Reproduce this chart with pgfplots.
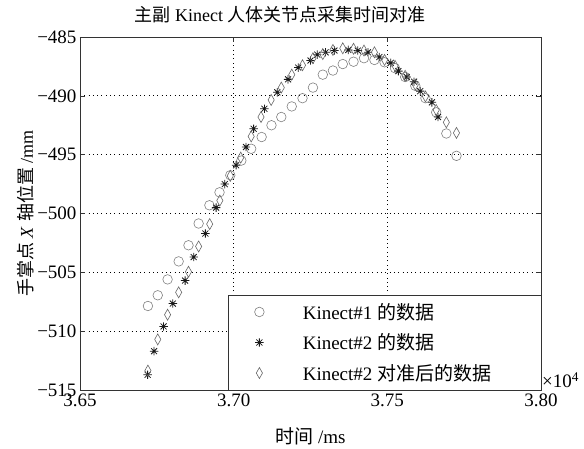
\documentclass[border=0pt]{standalone}
\usepackage{pgfplots}
\pgfplotsset{compat=1.18}
\usepackage{fontspec}
\setmainfont{Liberation Serif}
\newfontfamily\cjk{Noto Sans CJK SC}
\pgfdeclareplotmark{mstar}{%
 \pgfpathmoveto{\pgfqpoint{-\pgfplotmarksize}{0pt}}\pgfpathlineto{\pgfqpoint{\pgfplotmarksize}{0pt}}%
 \pgfpathmoveto{\pgfqpoint{0pt}{-\pgfplotmarksize}}\pgfpathlineto{\pgfqpoint{0pt}{\pgfplotmarksize}}%
 \pgfpathmoveto{\pgfqpoint{-.707\pgfplotmarksize}{-.707\pgfplotmarksize}}\pgfpathlineto{\pgfqpoint{.707\pgfplotmarksize}{.707\pgfplotmarksize}}%
 \pgfpathmoveto{\pgfqpoint{-.707\pgfplotmarksize}{.707\pgfplotmarksize}}\pgfpathlineto{\pgfqpoint{.707\pgfplotmarksize}{-.707\pgfplotmarksize}}%
 \pgfusepathqstroke}
\pgfplotsset{lg/.style={legend image code/.code={\path (0pt,0pt) (72pt,0pt); \draw[##1] plot coordinates {(31pt,0pt)};}}}
\begin{document}
\begin{tikzpicture}
\begin{axis}[
  name=ax,
  at={(0,0)}, anchor=south west,
  width=461pt, height=353pt, scale only axis,
  xmin=3.65, xmax=3.80, ymin=-515, ymax=-485,
  xtick={3.65,3.70,3.75,3.80}, xticklabels={3.65,3.70,3.75,3.80},
  ytick={-515,-510,-505,-500,-495,-490,-485},
  yticklabels={−515,−510,−505,−500,−495,−490,−485},
  tick align=inside, major tick length=5pt,
  tick style={black!80, line width=0.6pt},
  grid=major, grid style={black, line width=0.7pt, dash pattern=on 0.7pt off 3.6pt},
  axis line style={black!80, line width=0.7pt},
  tick label style={font=\fontsize{19}{22}\selectfont},
  title={{\cjk 主副} Kinect {\cjk 人体关节点采集时间对准}},
  title style={at={(axis description cs:0.434,1.045)}, anchor=center, font=\fontsize{18}{21}\selectfont},
  xlabel={{\cjk 时间} /ms},
  xlabel style={at={(axis description cs:0.5,-0.13)}, anchor=center, font=\fontsize{19}{22}\selectfont},
  ylabel={{\cjk 手掌点} \textit{X} {\cjk 轴位置} /mm},
  ylabel style={at={(axis description cs:-0.117,0.5)}, anchor=center, font=\fontsize{18}{21}\selectfont},
  legend style={at={(axis description cs:1,0)}, anchor=south east, draw=black!80, fill=white,
    inner xsep=0pt, inner ysep=6pt, row sep=9pt, font=\fontsize{19}{22}\selectfont},
  legend cell align=left,
]
\addplot[only marks, mark=o, mark size=4.8pt, black!50, line width=0.6pt, lg] coordinates {
(3.6721,-507.86) (3.6753,-506.95) (3.6785,-505.6) (3.6821,-504.07) (3.6853,-502.7)
(3.6886,-500.85) (3.6921,-499.3) (3.6954,-498.2) (3.6989,-496.75) (3.7025,-495.5)
(3.7057,-494.5) (3.7091,-493.5) (3.7123,-492.5) (3.7155,-491.8) (3.7189,-490.9)
(3.7224,-490.2) (3.7258,-489.3) (3.7290,-488.2) (3.7323,-487.85) (3.7355,-487.3)
(3.7390,-487.1) (3.7424,-486.8) (3.7458,-486.95) (3.7491,-487.15) (3.7525,-487.65)
(3.7558,-488.4) (3.7591,-489.15) (3.7624,-490.2) (3.7659,-491.4) (3.7692,-493.2)
(3.7725,-495.1)
};
\addlegendentry{\makebox[236pt][l]{Kinect\#1 {\cjk 的数据}}}
\addplot[only marks, mark=mstar, mark size=4.2pt, black!90, line width=0.8pt, lg] coordinates {
(3.6720,-513.7) (3.6741,-511.7) (3.6772,-509.6) (3.6802,-507.65) (3.6842,-505.7)
(3.6870,-503.7) (3.6908,-501.7) (3.6943,-499.5) (3.6971,-497.5) (3.7008,-495.9)
(3.7040,-494.35) (3.7065,-492.8) (3.7100,-491.1) (3.7142,-489.7) (3.7177,-488.6)
(3.7210,-487.6) (3.7250,-487.0) (3.7272,-486.5) (3.7299,-486.3) (3.7328,-486.15)
(3.7373,-486.1) (3.7404,-486.15) (3.7437,-486.3) (3.7474,-486.7) (3.7511,-487.2)
(3.7536,-487.9) (3.7563,-488.4) (3.7587,-488.8) (3.7607,-489.6) (3.7645,-490.55)
(3.7665,-491.8)
};
\addlegendentry{\makebox[236pt][l]{Kinect\#2 {\cjk 的数据}}}
\addplot[only marks, mark=diamond, mark size=5.5pt, mark options={xscale=0.75}, black!60, line width=0.6pt, lg] coordinates {
(3.6721,-513.35) (3.6753,-510.7) (3.6785,-508.6) (3.6821,-506.7) (3.6853,-504.95)
(3.6886,-502.8) (3.6922,-500.9) (3.6955,-498.9) (3.6989,-496.8) (3.7023,-495.25)
(3.7057,-493.45) (3.7089,-491.8) (3.7122,-490.35) (3.7155,-489.3) (3.7189,-488.2)
(3.7224,-487.4) (3.7258,-486.8) (3.7290,-486.45) (3.7323,-486.1) (3.7355,-485.96)
(3.7390,-486.0) (3.7424,-486.15) (3.7458,-486.3) (3.7491,-486.95) (3.7525,-487.45)
(3.7558,-488.3) (3.7591,-489.05) (3.7624,-490.05) (3.7659,-491.2) (3.7692,-492.25)
(3.7725,-493.15)
};
\addlegendentry{\makebox[236pt][l]{Kinect\#2 {\cjk 对准后的数据}}}
\end{axis}
\node[anchor=west, inner sep=1pt, font=\fontsize{19}{22}\selectfont] at ([yshift=10pt]ax.south east) {×10\textsuperscript{4}};
\pgfresetboundingbox
\path[use as bounding box] (-80pt,-58pt) rectangle (504pt,390pt);
\end{tikzpicture}
\end{document}
